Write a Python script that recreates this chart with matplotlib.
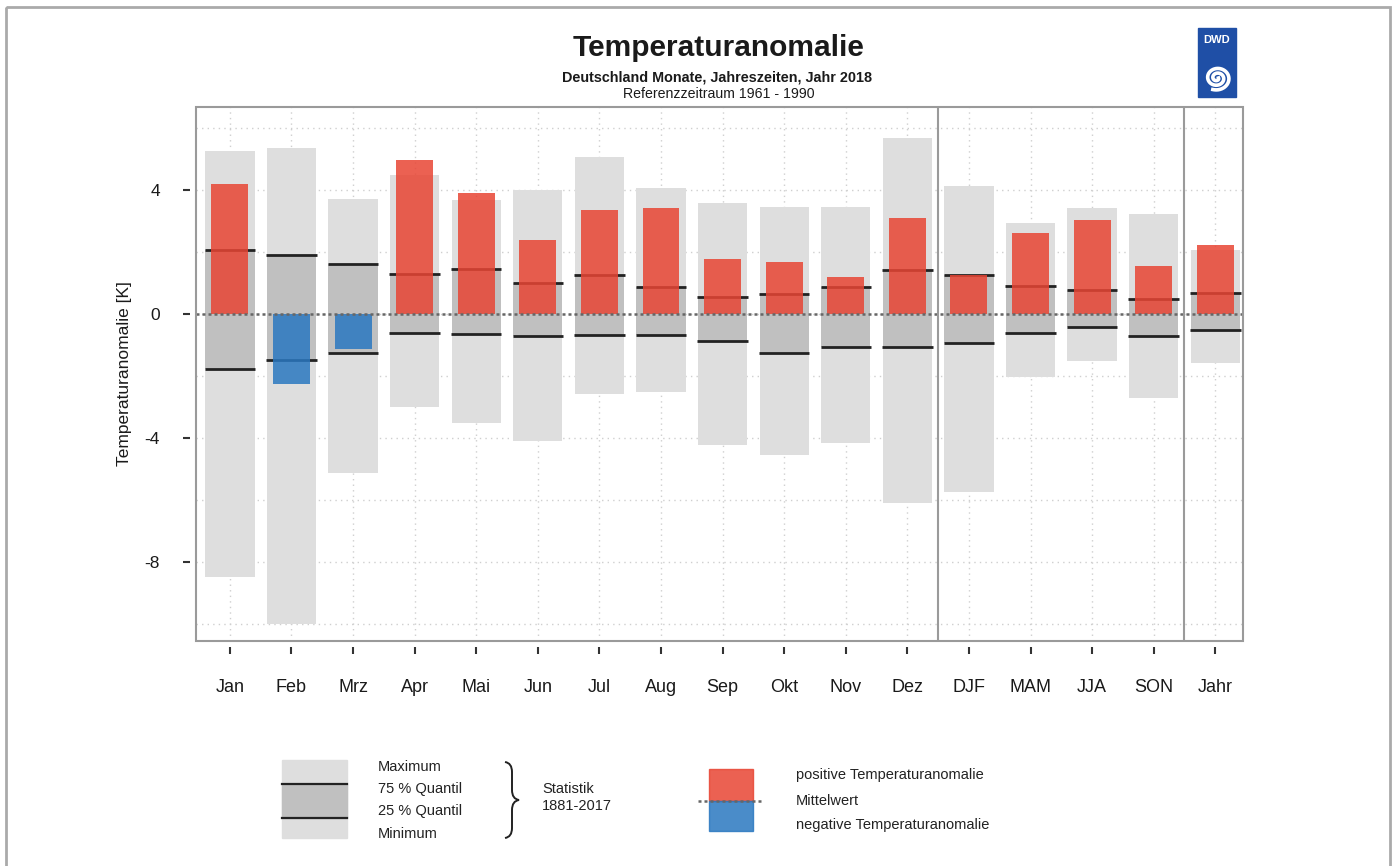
import numpy as np
import matplotlib
matplotlib.use('Agg')
import matplotlib.pyplot as plt
from matplotlib.patches import Rectangle, PathPatch
from matplotlib.path import Path

plt.rcParams['font.family'] = ['Liberation Sans', 'DejaVu Sans']

# Werte, Reihenfolge wie Achse
labels = ['Jan', 'Feb', 'Mrz', 'Apr', 'Mai', 'Jun', 'Jul', 'Aug', 'Sep', 'Okt',
          'Nov', 'Dez', 'DJF', 'MAM', 'JJA', 'SON', 'Jahr']
maximum = [5.26, 5.35, 3.70, 4.48, 3.68, 4.00, 5.06, 4.06, 3.58, 3.45, 3.45, 5.69,
           4.13, 2.95, 3.42, 3.22, 2.06]
minimum = [-8.50, -10.00, -5.13, -3.00, -3.50, -4.10, -2.58, -2.50, -4.23, -4.55,
           -4.16, -6.10, -5.74, -2.03, -1.50, -2.71, -1.58]
q75 = [2.06, 1.90, 1.60, 1.29, 1.45, 1.00, 1.26, 0.87, 0.55, 0.65, 0.87, 1.42,
       1.26, 0.90, 0.77, 0.49, 0.68]
q25 = [-1.77, -1.48, -1.26, -0.60, -0.65, -0.70, -0.68, -0.68, -0.87, -1.26, -1.06,
       -1.07, -0.94, -0.61, -0.42, -0.71, -0.52]
anomaly = [4.20, -2.26, -1.13, 4.97, 3.90, 2.39, 3.35, 3.42, 1.77, 1.68, 1.19, 3.10,
           1.26, 2.61, 3.05, 1.55, 2.24]

light_grey = '#DEDEDE'
dark_grey = '#C0C0C0'
red = '#E84534'
blue = '#2A78C0'
frame_col = '#9A9A9A'
txt_col = '#1A1A1A'

W, H = 1394, 866
fig = plt.figure(figsize=(W / 100, H / 100), dpi=100)
ax = fig.add_axes([196 / W, 1 - 641 / H, (1243 - 196) / W, (641 - 107) / H])

x = np.arange(len(labels))
mx = np.array(maximum)
mn = np.array(minimum)
hi = np.array(q75)
lo = np.array(q25)
an = np.array(anomaly)

# Statistik-Balken
ax.bar(x, mx - mn, bottom=mn, width=0.8, color=light_grey, zorder=2)
ax.bar(x, hi - lo, bottom=lo, width=0.8, color=dark_grey, zorder=2)
ax.hlines(hi, x - 0.41, x + 0.41, color='#222222', lw=2.0, zorder=3)
ax.hlines(lo, x - 0.41, x + 0.41, color='#222222', lw=2.0, zorder=3)

# Anomalie
cols = [red if v >= 0 else blue for v in an]
ax.bar(x, an, width=0.6, color=cols, alpha=0.85, zorder=4)

ax.axhline(0, color='#666666', lw=1.8, ls=(0, (1.2, 1.2)), zorder=5)
for sep in [11.5, 15.5]:
    ax.axvline(sep, color=frame_col, lw=1.5, zorder=5)

ax.set_xlim(-0.55, 16.45)
ax.set_ylim(-10.55, 6.68)

ax.set_xticks(x)
ax.set_yticks([-8, -4, 0, 4])
ax.set_yticks(np.arange(-10, 7, 2), minor=True)
ax.tick_params(which='major', direction='out', length=5, width=1.5,
               color='#333333', labelcolor=txt_col)
ax.tick_params(axis='x', pad=18, labelsize=13)
ax.tick_params(axis='y', pad=17, labelsize=12.5)
ax.tick_params(which='minor', length=0)
ax.set_xticklabels(labels)
ax.set_yticklabels(['-8', '-4', '0', '4'])
ax.grid(which='both', color='#CFCFCF', lw=1, ls=(0, (1, 3)), zorder=0)
ax.set_axisbelow(True)

for s in ax.spines.values():
    s.set_visible(False)
ax.spines['bottom'].set_position(('outward', 4))
ax.spines['left'].set_position(('outward', 4))
ax.add_patch(Rectangle((0, 0), 1, 1, transform=ax.transAxes, fill=False,
                       ec=frame_col, lw=1.5, clip_on=False, zorder=6))
ax.set_ylabel('Temperaturanomalie [K]', fontsize=12.5, labelpad=9, color=txt_col)

# Overlay in Pixelkoordinaten fuer Titel, Logo und Legende
ov = fig.add_axes([0, 0, 1, 1], zorder=-1)
ov.set_xlim(0, W)
ov.set_ylim(H, 0)
ov.axis('off')
ov.patch.set_alpha(0)

ov.add_patch(Rectangle((6, 7), 1384, 900, fill=False, ec='#AAAAAA', lw=2))

ov.text(719, 48, 'Temperaturanomalie', ha='center', va='center',
        fontsize=21.5, fontweight='bold', color=txt_col)
ov.text(717, 78, 'Deutschland Monate, Jahreszeiten, Jahr 2018', ha='center',
        va='center', fontsize=10.4, fontweight='bold', color=txt_col)
ov.text(719, 94, 'Referenzzeitraum 1961 - 1990', ha='center', va='center',
        fontsize=10.2, color=txt_col)

# DWD-Logo
ov.add_patch(Rectangle((1198, 28), 38, 69, color='#1F4FA6'))
ov.text(1217, 40, 'DWD', ha='center', va='center', color='white',
        fontsize=8, fontweight='bold')
t = np.linspace(0, 4.6 * np.pi, 300)
r = 1.5 + t / (2 * np.pi) * 5.2
ov.plot(1217 + r * np.cos(t), 78 + 0.9 * r * np.sin(t), color='white', lw=2.6)

# Legende links
ov.add_patch(Rectangle((282, 760), 65, 78, color=light_grey))
ov.add_patch(Rectangle((282, 784), 65, 34, color=dark_grey))
ov.plot([282, 347], [784, 784], color='#222222', lw=1.6)
ov.plot([282, 347], [818, 818], color='#222222', lw=1.6)
for yy, txt in zip([767, 789, 811, 834],
                   ['Maximum', '75 % Quantil', '25 % Quantil', 'Minimum']):
    ov.text(378, yy, txt, va='center', fontsize=10.5, color='#222222')

verts = [(505, 762), (512, 763), (512, 772), (512, 790), (512, 799), (519, 800),
         (512, 801), (512, 810), (512, 828), (512, 837), (505, 838)]
codes = [Path.MOVETO, Path.CURVE3, Path.CURVE3, Path.LINETO, Path.CURVE3, Path.CURVE3,
         Path.CURVE3, Path.CURVE3, Path.LINETO, Path.CURVE3, Path.CURVE3]
ov.add_patch(PathPatch(Path(verts, codes), fill=False, ec='#222222', lw=1.4))
ov.text(542, 789, 'Statistik', va='center', fontsize=10.5, color='#222222')
ov.text(542, 806, '1881-2017', va='center', fontsize=10.5, color='#222222')

# Legende rechts
ov.add_patch(Rectangle((709, 769), 44, 32, color=red, alpha=0.85))
ov.add_patch(Rectangle((709, 801), 44, 30, color=blue, alpha=0.85))
ov.plot([698, 762], [801, 801], color='#666666', lw=1.8, ls=(0, (1.2, 1.2)))
for yy, txt in zip([775, 801, 825],
                   ['positive Temperaturanomalie', 'Mittelwert',
                    'negative Temperaturanomalie']):
    ov.text(796, yy, txt, va='center', fontsize=10.5, color='#222222')

fig.savefig('out.png', dpi=100)
